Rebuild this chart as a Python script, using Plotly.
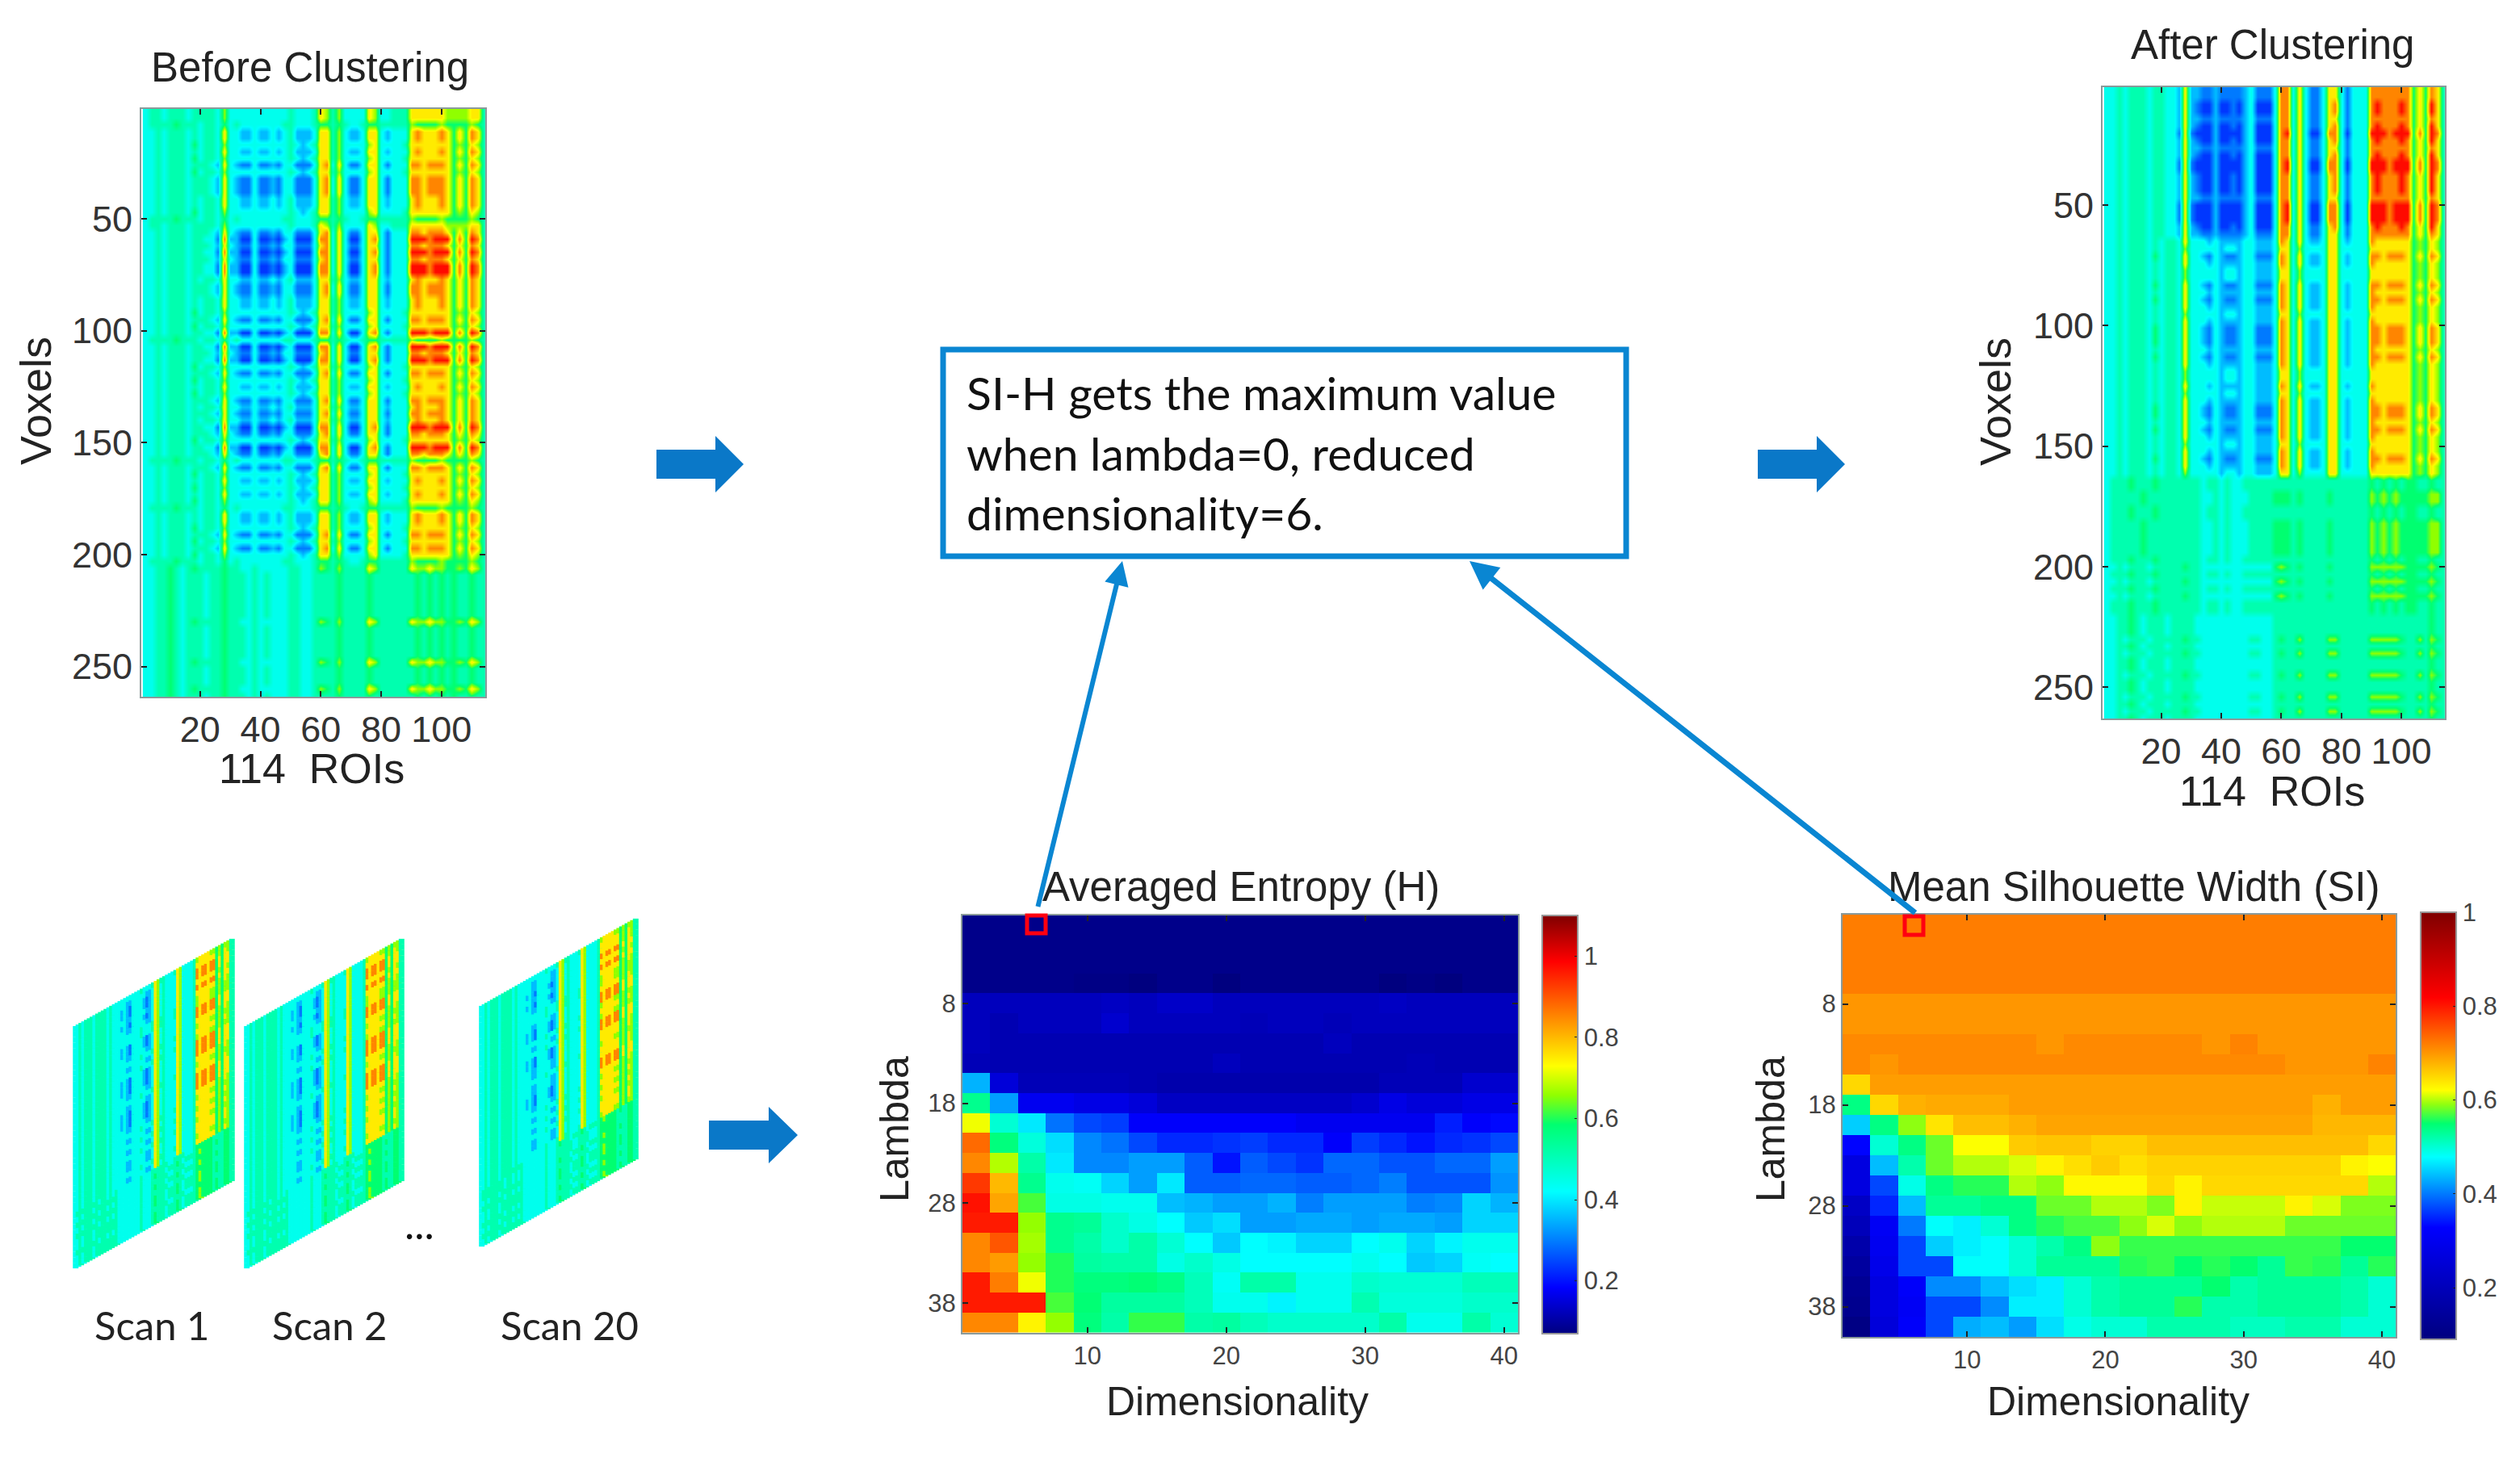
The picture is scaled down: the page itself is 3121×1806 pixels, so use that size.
import numpy as np
import plotly.graph_objects as go

W, H = 3121, 1806

# ---------- values ----------
LEVELS = [0.16, 0.22, 0.28, 0.36, 0.43, 0.50, 0.57, 0.66, 0.76, 0.88]

BEFORE_ROWS = {
 "S": "33 4344434433 1 8 22 00 3 0010 2 3 000 3 88 3 7 3 00 3 78 3 1 333 9998999 5 8 5 9 8 4",
 "M": "33 4344434443 2 7 32 11 3 1121 3 3 111 3 78 3 7 3 11 3 77 3 1 333 8878887 5 7 5 8 7 4",
 "W": "33 4344434344 3 7 33 22 3 2232 3 4 222 3 77 4 6 3 22 3 77 3 2 333 7877787 5 7 5 8 7 4",
 "V": "33 4344435344 3 6 33 33 3 3333 3 4 323 4 77 4 6 3 33 3 67 3 3 334 7777777 5 6 5 7 6 4",
 "G": "34 4445444344 3 5 34 33 3 3333 4 4 333 4 55 4 5 4 33 4 55 4 4 444 6555565 5 5 5 6 5 4",
 "B": "33 4454344434 4 5 44 43 4 3433 3 4 433 4 44 4 5 4 44 4 54 4 4 444 4545454 5 4 4 5 4 4",
 "Y": "33 4454345444 4 5 44 33 4 3333 3 4 433 4 65 4 6 4 44 4 76 4 4 444 7667665 5 6 5 7 6 4",
 "T": "34 4344434444 3 6 33 33 3 3333 3 4 333 4 76 4 6 3 33 3 76 3 3 444 7777776 6 6 6 7 7 4",
}
BEFORE_SEQ = "TTGWW VWVMV MMMWW VGTMS MSMSS WMMWW VMVSG SMSVM VWVMW MWSMV SMGMV WVWVG WWVMV MVGYB BBBBB BYBBB BBYBB BYB"

AFTER_ROWS = {
 "T": "33 4344434433 1 7 10 00 2 0000 2 3 000 3 89 3 7 3 00 3 88 3 0 333 9998999 5 8 5 9 8 4",
 "S": "33 4344434433 2 7 21 00 2 0010 2 3 000 3 88 3 7 3 11 3 78 3 1 333 8988898 5 7 5 9 7 4",
 "U": "33 4344434433 2 7 22 11 2 1111 2 3 111 3 88 3 7 3 11 3 77 3 1 333 8888888 5 7 5 8 7 4",
 "C": "33 4344434344 3 7 33 32 3 2222 3 3 222 3 87 3 7 3 22 3 77 3 2 333 8777777 5 6 5 7 6 4",
 "D": "33 4344435344 3 7 33 21 3 2112 3 3 111 3 87 3 7 3 22 3 77 3 2 333 8878887 5 7 5 8 7 4",
 "E": "33 4344434344 3 6 33 33 3 2332 3 3 222 3 77 3 6 3 33 3 77 3 3 333 7777777 5 6 5 7 6 4",
 "F": "34 4454445444 4 4 44 34 4 3433 4 4 444 4 44 4 4 4 44 4 44 4 4 444 5454545 5 4 4 5 4 4",
 "K": "34 4444544444 4 4 44 33 4 3433 3 4 444 5 55 4 5 4 44 4 54 4 4 444 6565655 5 5 5 6 6 4",
 "Y": "33 4344434444 4 5 44 33 3 3333 3 3 333 5 65 4 5 4 44 4 54 4 4 444 6666665 5 5 5 6 5 4",
 "B": "33 4454344434 4 4 43 33 3 3333 3 3 333 4 44 4 4 4 44 4 44 4 4 444 4444444 4 4 4 5 4 4",
 "R": "33 4344434444 4 5 44 33 3 3333 3 4 433 4 54 4 6 4 44 4 66 4 4 444 6666654 4 6 4 6 5 4",
}
AFTER_SEQ = "UUSSU STSUS TTSSS UTTTS UCEDC EEDCD CECDD DCDCE ECECD DCDCE CDCEF FKKFF KKKKK FYFYF YFFBB BRBRB BRBBR BRB"

SCAN_ROWS = {
 "P": "33 4344434444 3 4 33 32 3 2133 3 3 212 3 76 3 4 3 33 3 76 3 3 334 8788788 5 7 5 7 7 4",
 "Q": "33 4344434444 3 4 33 33 3 2233 3 3 322 3 76 3 4 3 33 3 76 3 3 334 7777777 5 6 5 7 6 4",
 "R": "33 4344434444 3 4 33 33 3 3333 3 4 333 4 76 4 4 3 33 4 76 3 3 334 6777766 5 6 5 6 6 4",
 "Z": "33 4344434444 4 4 44 33 3 3333 3 4 333 4 54 4 4 3 44 4 54 3 4 444 5655554 5 4 4 5 5 4",
 "O": "34 4444444344 3 4 34 33 3 3333 3 4 333 4 44 4 4 4 33 4 44 4 3 334 5555554 4 4 4 5 5 4",
}
SCAN_1_SEQ = "RQPPQPQRRPPQRQRPPPQRQPPPQRQRQRQQRQOZOZOZZOZZ"
SCAN_2_SEQ = "RQPPQPQRRPPQRQRPPPQRQPPPQRQRQRQQRQOZOZOZZOZZ"
SCAN_20_SEQ = "RQQPQPQRRQPPRQRPPQQRQQPPQRQRQRQQRZOOZOZZOZOZ"

ROI_TICKS = [20, 40, 60, 80, 100]
VOXEL_TICKS = [50, 100, 150, 200, 250]
DIM_TICKS = [10, 20, 30, 40]
LAMBDA_TICKS = [8, 18, 28, 38]
DIMENSIONALITY = list(range(2, 41, 2))
LAMBDA = list(range(0, 41, 2))

ENTROPY_H = [
 [.08]*20,
 [.08]*20,
 [.08]*20,
 [.08,.08,.08,.08,.075,.075,.07,.08,.08,.07,.08,.08,.08,.08,.08,.07,.075,.07,.08,.08],
 [.125,.125,.125,.125,.125,.13,.125,.135,.135,.125,.125,.125,.125,.125,.125,.13,.125,.125,.125,.125],
 [.125,.115,.125,.125,.125,.14,.125,.125,.125,.125,.12,.125,.125,.12,.125,.125,.125,.125,.125,.125],
 [.125,.115,.115,.115,.115,.115,.115,.115,.115,.115,.115,.115,.115,.125,.115,.115,.115,.115,.115,.115],
 [.12,.115,.115,.115,.115,.115,.115,.115,.115,.125,.115,.115,.115,.115,.115,.115,.12,.115,.115,.115],
 [.35,.15,.12,.12,.12,.12,.115,.11,.11,.11,.11,.11,.11,.11,.11,.12,.12,.12,.14,.14],
 [.55,.33,.17,.17,.16,.16,.15,.13,.13,.13,.13,.13,.13,.13,.14,.16,.15,.15,.16,.16],
 [.72,.47,.40,.29,.25,.24,.18,.18,.18,.18,.18,.18,.17,.17,.17,.17,.17,.21,.18,.19],
 [.88,.57,.46,.39,.31,.29,.25,.22,.22,.23,.24,.22,.22,.18,.24,.22,.20,.22,.23,.25],
 [.85,.68,.52,.40,.31,.31,.33,.33,.27,.20,.27,.25,.23,.28,.28,.26,.26,.28,.28,.33],
 [.93,.80,.55,.44,.43,.38,.33,.40,.27,.27,.28,.28,.27,.27,.28,.30,.26,.26,.26,.32],
 [.97,.82,.62,.45,.45,.44,.44,.36,.35,.33,.33,.35,.30,.33,.33,.33,.30,.31,.38,.35],
 [.96,.96,.66,.55,.54,.48,.45,.42,.37,.39,.33,.33,.34,.34,.33,.34,.34,.33,.38,.38],
 [.85,.90,.67,.55,.52,.48,.52,.47,.42,.37,.42,.41,.38,.38,.42,.44,.38,.41,.44,.44],
 [.85,.83,.66,.60,.53,.52,.52,.45,.48,.45,.42,.42,.42,.42,.44,.42,.37,.38,.43,.42],
 [.96,.86,.72,.60,.57,.57,.58,.56,.50,.43,.52,.52,.44,.44,.48,.47,.47,.47,.50,.50],
 [.96,.96,.96,.62,.58,.53,.53,.53,.50,.44,.44,.41,.44,.44,.51,.46,.46,.46,.48,.48],
 [.85,.85,.74,.66,.57,.52,.61,.61,.52,.53,.50,.48,.48,.48,.48,.52,.44,.44,.52,.47],
]

SILHOUETTE_SI = [
 [.72]*20,
 [.72]*20,
 [.72]*20,
 [.72]*20,
 [.70]*20,
 [.70]*20,
 [.71,.71,.71,.71,.71,.71,.71,.70,.71,.71,.71,.71,.71,.70,.715,.70,.70,.70,.70,.70],
 [.71,.70,.71,.71,.71,.71,.71,.71,.71,.71,.71,.71,.71,.71,.71,.71,.70,.70,.70,.715],
 [.65,.695,.695,.695,.695,.695,.695,.695,.695,.695,.695,.695,.695,.695,.695,.695,.695,.695,.695,.695],
 [.54,.65,.68,.685,.685,.685,.695,.695,.695,.695,.695,.695,.695,.695,.695,.695,.695,.68,.695,.695],
 [.45,.54,.59,.64,.67,.67,.68,.69,.69,.69,.69,.69,.69,.69,.69,.69,.69,.675,.675,.675],
 [.33,.50,.54,.58,.62,.62,.66,.665,.665,.655,.655,.67,.67,.67,.67,.67,.67,.67,.67,.65],
 [.27,.44,.52,.58,.60,.60,.61,.63,.645,.66,.645,.655,.655,.655,.655,.655,.655,.655,.63,.62],
 [.27,.37,.49,.54,.56,.56,.60,.59,.625,.625,.625,.65,.63,.65,.65,.65,.65,.65,.65,.60],
 [.22,.35,.44,.53,.53,.54,.54,.58,.58,.60,.60,.585,.63,.605,.605,.605,.63,.61,.585,.585],
 [.20,.31,.40,.48,.47,.50,.54,.56,.57,.57,.59,.61,.59,.60,.60,.60,.58,.58,.58,.58],
 [.17,.30,.37,.45,.47,.48,.50,.52,.54,.59,.565,.565,.565,.565,.565,.565,.565,.565,.55,.55],
 [.15,.29,.37,.37,.48,.48,.50,.53,.53,.53,.56,.565,.55,.56,.55,.53,.565,.56,.53,.56],
 [.13,.27,.32,.41,.41,.44,.46,.47,.50,.52,.53,.53,.53,.55,.52,.53,.53,.53,.52,.50],
 [.12,.27,.31,.37,.37,.41,.47,.47,.50,.52,.53,.53,.56,.52,.52,.53,.53,.53,.52,.50],
 [.10,.26,.32,.37,.43,.44,.42,.46,.49,.50,.50,.52,.52,.52,.51,.51,.52,.52,.50,.50],
]

# ---------- colours ----------
JET = [[0, "#00007f"], [.11, "#0000ff"], [.34, "#00ffff"], [.5, "#00ff70"], [.57, "#90ff00"],
       [.64, "#ffff00"], [.89, "#ff0000"], [1, "#7f0000"]]
SI_SCALE = [[0, "#00007f"], [.262, "#0000ff"], [.427, "#00ffff"], [.505, "#00ff70"], [.55, "#90ff10"],
            [.583, "#ffff00"], [.679, "#ff8c00"], [.80, "#ff0000"], [1, "#7f0000"]]
BLUE = "#0a78c8"
LINE_BLUE = "#0a86d2"
SANS = "Liberation Sans"


def matrix(rows, seq):
    out = []
    for key in seq.replace(" ", ""):
        out.append([LEVELS[int(c)] for c in rows[key].replace(" ", "")])
    return np.array(out)


def dom_x(a, b):
    return [a / W, b / W]


def dom_y(a, b):
    return [1 - b / H, 1 - a / H]


fig = go.Figure()
before = matrix(BEFORE_ROWS, BEFORE_SEQ)
after = matrix(AFTER_ROWS, AFTER_SEQ)
roi_x = [2 + 2 * i for i in range(before.shape[1])]
vox_y = [2 + 3 * i for i in range(before.shape[0])]

fig.add_trace(go.Heatmap(z=before, x=roi_x, y=vox_y, colorscale=JET, zmin=0, zmax=1, zsmooth="best",
                         showscale=False, xaxis="x", yaxis="y"))
fig.add_trace(go.Heatmap(z=after, x=roi_x, y=vox_y, colorscale=JET, zmin=0, zmax=1, zsmooth="best",
                         showscale=False, xaxis="x2", yaxis="y2"))
fig.add_trace(go.Heatmap(z=ENTROPY_H, x=DIMENSIONALITY, y=LAMBDA, colorscale=JET, zmin=.07, zmax=1.1,
                         xaxis="x3", yaxis="y3",
                         colorbar=dict(x=1910 / W, xanchor="left", y=1 - 1134 / H, yanchor="top",
                                       thickness=44, thicknessmode="pixels", len=518, lenmode="pixels",
                                       xpad=0, ypad=0, tickvals=[.2, .4, .6, .8, 1],
                                       ticktext=["0.2", "0.4", "0.6", "0.8", "1"],
                                       ticks="inside", ticklen=5, tickcolor="#222", outlinecolor="#999",
                                       outlinewidth=2, tickfont=dict(family=SANS, size=31, color="#444"))))
fig.add_trace(go.Heatmap(z=SILHOUETTE_SI, x=DIMENSIONALITY, y=LAMBDA, colorscale=SI_SCALE, zmin=.09, zmax=1,
                         xaxis="x4", yaxis="y4",
                         colorbar=dict(x=2998 / W, xanchor="left", y=1 - 1130 / H, yanchor="top",
                                       thickness=44, thicknessmode="pixels", len=529, lenmode="pixels",
                                       xpad=0, ypad=0, tickvals=[.2, .4, .6, .8, 1],
                                       ticktext=["0.2", "0.4", "0.6", "0.8", "1"],
                                       ticks="inside", ticklen=5, tickcolor="#222", outlinecolor="#999",
                                       outlinewidth=2, tickfont=dict(family=SANS, size=31, color="#444"))))

# skewed scan panels, drawn through the overlay axis
scans = [(SCAN_1_SEQ, 92, 1272, 197, 300, 110),
         (SCAN_2_SEQ, 304, 1272, 195, 300, 110),
         (SCAN_20_SEQ, 595, 1247, 194, 298, 110)]
for seq, x0, y0, w, h, skew in scans:
    m = matrix(SCAN_ROWS, seq)
    nr, nc = m.shape
    cc, rr = np.meshgrid((np.arange(nc) + .5) / nc, (np.arange(nr) + .5) / nr)
    fig.add_trace(go.Scatter(x=(x0 + cc * w).ravel(), y=(y0 + rr * h - cc * skew).ravel(), mode="markers",
                             marker=dict(symbol="square", size=7, color=m.ravel(), colorscale=JET,
                                         cmin=0, cmax=1, line=dict(width=0)),
                             hoverinfo="skip", showlegend=False, xaxis="x5", yaxis="y5"))


def axis(domain, rng, ticks, size, anchor, color):
    return dict(domain=domain, range=rng, tickvals=ticks, ticks="inside", ticklen=7, tickwidth=2,
                tickcolor="#222", showline=True, linecolor="#8a9a9a", linewidth=2, mirror="ticks",
                showgrid=False, zeroline=False, anchor=anchor,
                tickfont=dict(family=SANS, size=size, color=color))


layout = dict(
    width=W, height=H, margin=dict(l=0, r=0, t=0, b=0), paper_bgcolor="white", plot_bgcolor="rgba(0,0,0,0)",
    showlegend=False,
    xaxis=axis(dom_x(175, 601), [0.5, 114.5], ROI_TICKS, 45, "y", "#333"),
    yaxis=axis(dom_y(135, 863), [263.5, 1], VOXEL_TICKS, 45, "x", "#333"),
    xaxis2=axis(dom_x(2604, 3028), [0.5, 114.5], ROI_TICKS, 45, "y2", "#333"),
    yaxis2=axis(dom_y(108, 890), [263, 1], VOXEL_TICKS, 45, "x2", "#333"),
    xaxis3=axis(dom_x(1192, 1880), [1, 41], DIM_TICKS, 31, "y3", "#444"),
    yaxis3=axis(dom_y(1134, 1651), [41, -.8], LAMBDA_TICKS, 31, "x3", "#444"),
    xaxis4=axis(dom_x(2282, 2967), [1, 41], DIM_TICKS, 31, "y4", "#444"),
    yaxis4=axis(dom_y(1133, 1656), [41, -.85], LAMBDA_TICKS, 31, "x4", "#444"),
    xaxis5=dict(domain=[0, 1], range=[0, W], visible=False, anchor="y5", fixedrange=True),
    yaxis5=dict(domain=[0, 1], range=[H, 0], visible=False, anchor="x5", fixedrange=True),
)


def block_arrow(x0, xb, x1, cy, shaft, head):
    return dict(type="path", xref="x5", yref="y5", fillcolor=BLUE, line=dict(width=0), layer="above",
                path=(f"M{x0},{cy-shaft} L{xb},{cy-shaft} L{xb},{cy-head} L{x1},{cy} "
                      f"L{xb},{cy+head} L{xb},{cy+shaft} L{x0},{cy+shaft} Z"))


layout["shapes"] = [
    dict(type="rect", xref="x5", yref="y5", x0=1168, x1=2014, y0=433, y1=689,
         line=dict(color=LINE_BLUE, width=7), fillcolor="white", layer="above"),
    block_arrow(813, 886, 921, 575, 18, 35),
    block_arrow(2177, 2250, 2285, 575, 18, 35),
    block_arrow(878, 952, 988, 1406, 18, 35),
    dict(type="rect", xref="x5", yref="y5", x0=1272, x1=1295, y0=1134, y1=1156,
         line=dict(color="#ff0010", width=5), layer="above"),
    dict(type="rect", xref="x5", yref="y5", x0=2359, x1=2382, y0=1135, y1=1158,
         line=dict(color="#ff0010", width=5), layer="above"),
]


def label(text, x, y, size=48, rot=0, family=SANS, color="#222", xanchor="center"):
    return dict(text=text, x=x, y=y, xref="x5", yref="y5", showarrow=False, textangle=rot, xanchor=xanchor,
                yanchor="middle", font=dict(family=family, size=size, color=color))


layout["annotations"] = [
    label("Before Clustering", 384, 83, size=51),
    label("114  ROIs", 386, 952, size=52),
    label("Voxels", 44, 497, size=54, rot=-90),
    label("After Clustering", 2814, 55, size=51),
    label("114  ROIs", 2814, 980, size=52),
    label("Voxels", 2471, 498, size=54, rot=-90),
    label("Averaged Entropy (H)", 1537, 1098, size=51),
    label("Mean Silhouette Width (SI)", 2642, 1098, size=51),
    label("Dimensionality", 1532, 1736, size=50),
    label("Dimensionality", 2623, 1736, size=50),
    label("Lambda", 1108, 1399, size=50, rot=-90),
    label("Lambda", 2193, 1399, size=50, rot=-90),
    label("Scan 1", 188, 1641, size=49, family="Lato"),
    label("Scan 2", 408, 1641, size=49, family="Lato"),
    label("Scan 20", 705, 1641, size=49, family="Lato"),
    label("...", 519, 1515, size=52, family="Lato", color="#111"),
    label("SI-H gets the maximum value", 1195, 486, size=57, family="Lato", color="#111", xanchor="left"),
    label("when lambda=0, reduced", 1195, 561, size=57, family="Lato", color="#111", xanchor="left"),
    label("dimensionality=6.", 1195, 635, size=57, family="Lato", color="#111", xanchor="left"),
    dict(x=1390, y=695, ax=1283, ay=1133, xref="x5", yref="y5", axref="x5", ayref="y5", showarrow=True,
         arrowhead=2, arrowsize=1, arrowwidth=6, arrowcolor=LINE_BLUE),
    dict(x=1820, y=695, ax=2375, ay=1133, xref="x5", yref="y5", axref="x5", ayref="y5", showarrow=True,
         arrowhead=2, arrowsize=1, arrowwidth=7, arrowcolor=LINE_BLUE),
]

fig.update_layout(**layout)
fig.write_html("out.html", config=dict(displayModeBar=False),
               post_script="document.body.style.margin='0';document.body.style.overflow='hidden';")
